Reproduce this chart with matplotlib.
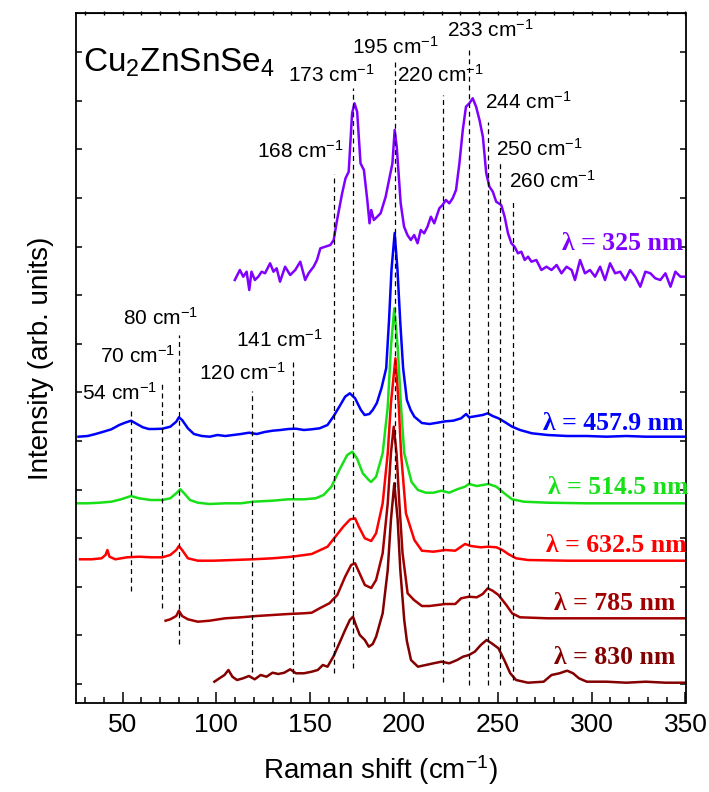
import matplotlib
matplotlib.use("Agg")
import matplotlib.pyplot as plt
import numpy as np

plt.rcParams['mathtext.fontset'] = 'custom'
plt.rcParams['mathtext.rm'] = 'Liberation Sans'
plt.rcParams['mathtext.it'] = 'Liberation Sans:italic'
plt.rcParams['mathtext.bf'] = 'Liberation Sans:bold'

sans = ['Liberation Sans', 'DejaVu Sans']
serif = ['Liberation Serif', 'DejaVu Serif']

# spectra: (Raman shift cm-1, intensity arb. units incl. offset)
x325 = [109.8, 112.5, 114.3, 116.1, 117.5, 118.7, 120.5, 122.3, 124.1, 125.9, 128.6, 130.4, 132.1, 133.9,
        136.6, 139.3, 142.0, 144.7, 147.3, 149.1, 151.8, 153.6, 155.4, 158.0, 160.7, 162.5, 164.3, 167.0,
        168.8, 170.5, 172.3, 173.6, 175.0, 176.8, 178.6, 180.4, 181.6, 182.5, 183.9, 185.7, 187.5, 190.2,
        192.0, 193.8, 195.0, 196.1, 198.2, 200.0, 201.8, 203.6, 205.4, 207.2, 208.9, 210.7, 212.5, 214.3,
        216.1, 218.8, 220.5, 222.3, 224.1, 225.9, 227.7, 229.5, 231.3, 233.0, 234.8, 236.6, 238.4, 240.2,
        242.0, 243.8, 245.5, 247.3, 249.1, 251.8, 253.6, 255.4, 257.2, 258.9, 260.7, 262.5, 264.3, 266.1,
        267.9, 270.5, 273.2, 275.9, 278.6, 281.3, 283.9, 286.6, 289.3, 291.1, 293.8, 296.4, 299.1, 301.8,
        304.5, 307.1, 309.8, 312.5, 315.2, 317.9, 320.5, 323.2, 325.9, 328.6, 331.3, 333.9, 336.6, 339.3,
        342.0, 344.6, 347.3, 350.0]
y325 = [423, 433, 426.3, 431.3, 413, 431.3, 423, 426.3, 431.3, 429.7, 439.7, 431.3, 434.7, 421.3,
        436.3, 428, 433, 441.3, 423, 429.7, 436.3, 443, 454.7, 456.3, 458, 463, 483, 509.7,
        524.7, 531.3, 589.7, 599.7, 591.3, 539.7, 533, 503, 479.7, 493, 483, 486.3, 489.7, 506.3,
        523, 539.7, 573, 556.3, 499.7, 476.3, 468, 463, 468, 459.7, 473, 469.7, 476.3, 486.3,
        479.7, 494.7, 498, 503, 499.7, 504.7, 513, 539.7, 573, 596.3, 599.7, 604.7, 596.3, 583,
        566.3, 529.7, 516.3, 511.3, 501.3, 498, 486.3, 469.7, 459.7, 456.3, 449.7, 451.3, 443, 446.3,
        441.3, 443, 433, 436.3, 433, 438, 429.7, 436.3, 433, 423, 443, 429.7, 433, 426.3,
        436.3, 423, 439.7, 429.7, 431.3, 423, 433, 426.3, 416.3, 431.3, 429.7, 424.7, 423, 429.7,
        416.3, 431.3, 426.3, 426.3]

x458 = [26.5, 31.4, 35.6, 39.8, 44.0, 48.2, 51.3, 54.5, 57.6, 60.8, 63.9, 67.0, 71.2, 75.4, 78.6, 80.0,
        81.7, 84.8, 88.0, 92.2, 96.4, 100.6, 104.7, 108.9, 113.1, 117.3, 121.5, 125.7, 129.9, 134.1,
        138.3, 142.4, 146.6, 150.8, 155.0, 159.2, 162.3, 165.5, 168.6, 171.1, 173.9, 177.0, 179.0,
        181.5, 183.3, 185.5, 188.0, 190.5, 192.0, 193.3, 195.0, 196.5, 198.0, 199.5, 201.5, 203.5,
        205.5, 209.5, 213.6, 217.8, 222.0, 226.2, 230.4, 233.1, 234.6, 238.8, 241.9, 244.6, 247.2,
        250.3, 253.4, 257.6, 261.8, 268.1, 276.5, 286.9, 297.4, 307.9, 318.4, 328.8, 339.3, 350.0]
y458 = [266.3, 267, 269, 271.3, 273.7, 278, 280.3, 282.3, 279, 275.7, 274, 274, 274.3, 276.3, 281.3, 285.7,
        283, 274.7, 269, 267, 266.3, 268, 267, 268, 269, 270.3, 269, 271, 272.3, 273,
        274, 274.3, 273, 273.7, 274.7, 278, 286.3, 296.3, 306.3, 309.7, 304.7, 293, 288,
        289, 293, 300, 315, 335, 383, 433, 470, 433, 380, 335, 303, 293,
        286.3, 280, 279, 280.3, 281.7, 282.3, 284.7, 289, 285.7, 287, 288, 289.7, 287,
        284.7, 281.3, 276.3, 273, 269.7, 268, 267, 267, 266.3, 267, 266.3, 266.3, 266.3]

x514 = [25.2, 31.4, 37.7, 44.0, 49.2, 54.5, 58.7, 65.0, 71.2, 75.4, 78.6, 80.7, 82.8, 85.9, 90.1, 96.4,
        104.7, 113.1, 119.4, 129.9, 138.3, 146.6, 152.9, 157.1, 161.3, 165.5, 169.7, 172.4, 174.9,
        178.0, 181.2, 182.4, 185.1, 188.6, 191.3, 193.0, 194.8, 196.6, 198.4, 200.1, 204.0, 207.4,
        211.6, 215.7, 219.9, 224.1, 228.3, 232.5, 234.6, 238.8, 245.0, 249.2, 253.4, 257.6, 263.9,
        276.5, 297.4, 318.4, 350.0]
y514 = [199.7, 199.7, 200.3, 201.3, 203.7, 207, 204.7, 203, 203, 204.7, 209.7, 213.7, 209.7, 203, 200.3, 199,
        199.7, 199.7, 201.3, 202.3, 203.7, 203.7, 204.7, 208, 216.3, 233, 248, 251.3, 244.7,
        229.7, 223, 221, 226.3, 249.7, 296, 356, 394.7, 356, 296, 249.7, 221, 213,
        210.3, 210.3, 212.3, 210.3, 213.7, 216.3, 219, 217, 219, 216.3, 209.7, 203.7, 201.3,
        200.3, 199.7, 199.7, 199.7]

x632 = [27.3, 33.5, 38.8, 40.9, 41.9, 43.0, 46.1, 52.4, 58.7, 65.0, 71.2, 75.4, 78.6, 80.0, 81.7, 84.8,
        90.1, 98.5, 108.9, 119.4, 129.9, 140.3, 150.8, 159.2, 163.4, 167.6, 171.3, 173.9, 175.9,
        179.1, 182.5, 185.1, 188.6, 191.3, 193.0, 195.4, 197.1, 198.4, 201.0, 205.5, 209.5, 215.7,
        222.0, 227.3, 230.4, 232.5, 235.6, 240.9, 245.0, 249.2, 252.4, 255.5, 259.7, 266.0, 286.9,
        307.9, 328.8, 350.0]
y632 = [143.7, 143.7, 144.7, 148, 153, 146.3, 143.7, 145.7, 146.3, 145.7, 145.7, 148, 153, 157, 153, 144.7,
        142.3, 142.3, 143, 143.7, 144.7, 146.3, 149, 156.3, 166.3, 176.3, 183.7, 184.7, 176.3,
        164.7, 162, 169.7, 199.7, 249.7, 299.7, 344.7, 299.7, 249.7, 189.7, 163, 152.3, 151.3,
        153, 152.3, 156.3, 159, 157, 155.7, 156.3, 155.7, 153, 149, 144.7, 143, 142.3,
        142.3, 142.3, 142.3]

x785 = [72.9, 75.4, 78.6, 80.0, 81.7, 84.8, 90.1, 96.4, 104.7, 113.1, 121.5, 129.9, 138.3, 146.6, 150.8,
        155.0, 160.2, 164.4, 168.6, 171.8, 173.9, 175.9, 179.1, 182.5, 185.1, 188.6, 191.3, 193.0,
        194.5, 196.0, 197.5, 199.2, 201.9, 205.3, 209.5, 213.6, 217.8, 222.0, 227.3, 230.4, 234.6,
        238.8, 241.9, 244.6, 247.2, 250.3, 254.5, 257.6, 261.8, 276.5, 297.4, 318.4, 350.0]
y785 = [82.3, 83.7, 87, 92.3, 87, 83.7, 81.3, 82.3, 84.7, 85.7, 87, 88, 89, 89.7, 90.3,
        94.7, 99.7, 108, 126.3, 138, 139.7, 131.3, 118, 115, 123, 149.7, 199.7, 249.7,
        276.3, 249.7, 199.7, 149.7, 109.7, 103, 97, 97, 98, 99, 99, 104.7, 106.3,
        105.7, 109, 114.7, 112.3, 108, 98, 89.7, 85.7, 84.7, 84.7, 84.7, 84.7]

x830 = [98.9, 101.6, 104.3, 106.4, 108.5, 111.0, 114.2, 117.3, 120.4, 123.6, 126.7, 129.9, 133.0, 136.2,
        139.3, 142.4, 146.6, 150.8, 154.0, 156.7, 159.2, 162.3, 165.5, 168.6, 171.1, 172.8, 174.3,
        176.4, 179.1, 181.2, 183.3, 185.1, 188.6, 191.3, 193.0, 194.8, 196.6, 198.0, 200.1, 201.5,
        203.7, 207.4, 211.6, 215.7, 219.9, 224.1, 228.3, 231.4, 234.6, 237.7, 240.9, 244.0, 246.7,
        250.3, 253.4, 256.6, 259.7, 266.0, 274.4, 278.6, 282.8, 286.9, 290.1, 293.2, 297.4, 307.9,
        318.4, 328.8, 339.3, 350.0]
y830 = [21.3, 24.7, 28, 33, 26.3, 23, 24.7, 27, 23.7, 28, 26.3, 30.3, 29, 30.3,
        33.7, 29.7, 29.7, 31.3, 33, 38, 36.3, 46.3, 59.7, 73, 83, 86.3, 78,
        68, 63, 56.3, 59, 66.3, 89.7, 133, 183, 219.7, 183, 133, 83, 62,
        43, 36.3, 38, 39.7, 41.3, 39.7, 43, 46.3, 48, 51.3, 58, 63, 59.7,
        54.7, 43, 29.7, 23, 20.3, 21.3, 28, 29.7, 32.3, 29.7, 24.7, 21.3, 21.3,
        20.3, 21.3, 20.3, 20.3]

spectra = [(x458, y458, '#0000ff', u'\u03bb = 457.9 nm'),
           (x514, y514, '#18e018', u'\u03bb = 514.5 nm'),
           (x632, y632, '#ff0000', u'\u03bb = 632.5 nm'),
           (x785, y785, '#a00000', u'\u03bb = 785 nm'),
           (x830, y830, '#820000', u'\u03bb = 830 nm'),
           (x325, y325, '#8000ff', u'\u03bb = 325 nm')]
# label anchor (x, y) for each spectrum label, right aligned
label_pos = [(349, 280), (351.5, 215), (350.5, 158), (344.5, 99), (344.5, 46), (349, 460)]

# dashed marker lines: position drawn, y bottom, y top, label text, label centre
line_x = [54.5, 71, 80, 119, 141, 162.5, 173, 195, 221, 234.5, 245, 251, 258]
line_lo = [112, 95, 59, 31, 21, 30, 35, 216, 21, 18, 18, 18, 23]
line_hi = [293, 320, 368, 312, 342, 529, 615, 641, 608, 655, 581, 540, 502]
line_lab = ['54', '70', '80', '120', '141', '168', '173', '195', '220', '233', '244', '250', '260']
lab_x = [48.5, 58.1, 70.4, 114, 133.6, 144.9, 161.3, 195.4, 219.3, 245.9, 266, 272, 278.9]
lab_y = [310, 347, 385, 330, 363, 552, 628, 656, 628, 673, 601, 554, 522]

fig = plt.figure(figsize=(7.09, 7.92), dpi=100)
ax = fig.add_axes([75.7 / 709, 89 / 792, (685.5 - 75.7) / 709, (703 - 12.7) / 792])

for (xs, ys, c, lab), (lx, ly) in zip(spectra, label_pos):
    ax.plot(xs, ys, color=c, lw=1.8, zorder=2)
    ax.text(lx, ly, lab, color=c, ha='right', va='center', fontsize=18.5,
            family=serif, fontweight='bold', zorder=4)

for xv, lo, hi in zip(line_x, line_lo, line_hi):
    ax.plot([xv, xv], [lo, hi], color='black', lw=0.9, ls=(0, (4, 3)), zorder=3)

for t, tx, ty in zip(line_lab, lab_x, lab_y):
    ax.text(tx, ty, t + r' cm$^{\mathregular{-1}}$', ha='center', va='center',
            fontsize=15, family=sans, zorder=4)

ax.text(29, 640, r'Cu$_{\mathregular{2}}$ZnSnSe$_{\mathregular{4}}$', ha='left', va='center',
        fontsize=24, family=sans)

ax.set_xlim(25, 350)
ax.set_ylim(0, 690.3)
ax.set_xticks(np.arange(50, 351, 50))
ax.set_xticks(np.arange(30, 351, 10), minor=True)
ax.set_yticks(19 + 48.6 * np.arange(14))
ax.set_yticklabels([])
ax.tick_params(axis='x', which='major', direction='in', length=8, width=1.1, top=False,
               labelsize=19, pad=7)
ax.tick_params(axis='x', which='minor', direction='in', length=4.5, width=1.1, top=False)
ax.tick_params(axis='y', direction='in', length=4, width=1.1, right=True)
for lbl in ax.get_xticklabels():
    lbl.set_family(sans)
ax2 = ax.secondary_xaxis('top')
ax2.set_xticks(np.arange(30, 351, 10))
ax2.tick_params(direction='inout', length=3, width=1, labeltop=False)
for s in ax.spines.values():
    s.set_linewidth(1.3)

ax.set_xlabel(r'Raman shift (cm$^{\mathregular{-1}}$)', fontsize=20, family=sans, labelpad=12)
ax.set_ylabel('Intensity (arb. units)', fontsize=20, family=sans, labelpad=12)

fig.savefig('out.png', dpi=100)
